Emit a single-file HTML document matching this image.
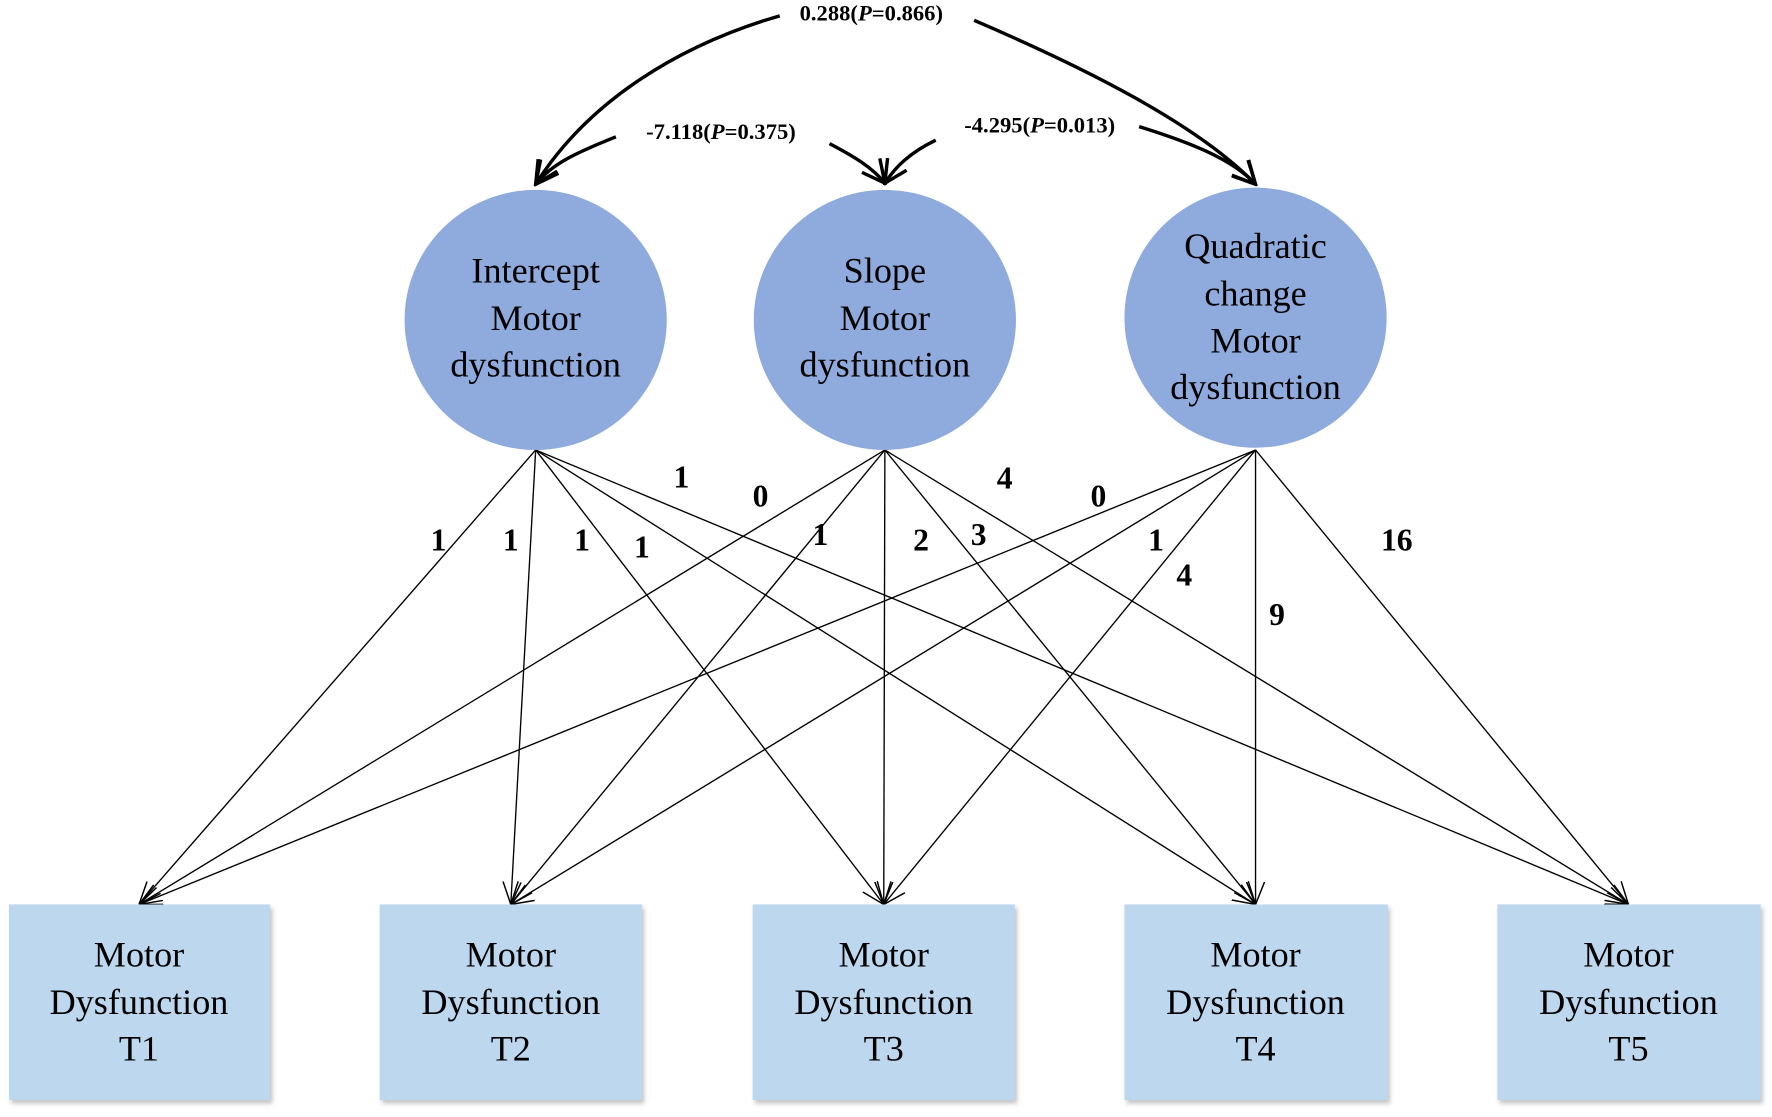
<!DOCTYPE html>
<html><head><meta charset="utf-8"><style>
html,body{margin:0;padding:0;background:#fff;}
svg{display:block;}
text{font-family:"Liberation Serif",serif;}
</style></head><body>
<svg width="1772" height="1117" viewBox="0 0 1568 988" preserveAspectRatio="none" xmlns="http://www.w3.org/2000/svg">
<defs>
<marker id="a" viewBox="0 0 20 20" refX="20" refY="10" markerWidth="20" markerHeight="20" markerUnits="userSpaceOnUse" orient="auto">
<path d="M0,2 L20,10 L0,18" fill="none" stroke="#000" stroke-width="1.3"/>
</marker>
<marker id="b" viewBox="0 0 24 24" refX="22" refY="12" markerWidth="24" markerHeight="24" markerUnits="userSpaceOnUse" orient="auto">
<path d="M2,2 L22,12 L2,22" fill="none" stroke="#000" stroke-width="3"/>
</marker>
<filter id="s" x="-5%" y="-5%" width="115%" height="115%"><feDropShadow dx="2" dy="3" stdDeviation="2" flood-color="#999" flood-opacity="0.6"/></filter>
</defs>
<!-- covariance curves -->
<g fill="none" stroke="#000" stroke-width="3">
<path d="M690,14 C600,40 520,90 474,163" marker-end="url(#b)"/>
<path d="M862,18 C960,60 1060,110 1111,163" marker-end="url(#b)"/>
<path d="M545,121 C510,135 488,145 474,163" marker-end="url(#b)"/>
<path d="M734,127 C755,138 772,148 783,162" marker-end="url(#b)"/>
<path d="M828,124 C805,135 792,148 783,162" marker-end="url(#b)"/>
<path d="M1008,112 C1050,125 1090,140 1111,163" marker-end="url(#b)"/>
</g>
<text x="771" y="18" font-size="20" font-weight="bold" text-anchor="middle">0.288(<tspan font-style="italic">P</tspan>=0.866)</text>
<text x="638" y="123" font-size="20" font-weight="bold" text-anchor="middle">-7.118(<tspan font-style="italic">P</tspan>=0.375)</text>
<text x="920" y="117" font-size="20" font-weight="bold" text-anchor="middle">-4.295(<tspan font-style="italic">P</tspan>=0.013)</text>
<!-- arrows -->
<g stroke="#000" stroke-width="1.2" fill="none">
<line x1="474" y1="398" x2="123" y2="800" marker-end="url(#a)"/>
<line x1="474" y1="398" x2="452" y2="800" marker-end="url(#a)"/>
<line x1="474" y1="398" x2="782" y2="800" marker-end="url(#a)"/>
<line x1="474" y1="398" x2="1111" y2="800" marker-end="url(#a)"/>
<line x1="474" y1="398" x2="1441" y2="800" marker-end="url(#a)"/>
<line x1="783" y1="398" x2="123" y2="800" marker-end="url(#a)"/>
<line x1="783" y1="398" x2="452" y2="800" marker-end="url(#a)"/>
<line x1="783" y1="398" x2="782" y2="800" marker-end="url(#a)"/>
<line x1="783" y1="398" x2="1111" y2="800" marker-end="url(#a)"/>
<line x1="783" y1="398" x2="1441" y2="800" marker-end="url(#a)"/>
<line x1="1111" y1="398" x2="123" y2="800" marker-end="url(#a)"/>
<line x1="1111" y1="398" x2="452" y2="800" marker-end="url(#a)"/>
<line x1="1111" y1="398" x2="782" y2="800" marker-end="url(#a)"/>
<line x1="1111" y1="398" x2="1111" y2="800" marker-end="url(#a)"/>
<line x1="1111" y1="398" x2="1441" y2="800" marker-end="url(#a)"/>
</g>
<!-- circles -->
<g fill="#8faadc">
<ellipse cx="474" cy="283" rx="116" ry="115"/>
<ellipse cx="783" cy="283" rx="116" ry="115"/>
<ellipse cx="1111" cy="281" rx="116" ry="115"/>
</g>
<g font-size="32" text-anchor="middle" fill="#000">
<text x="474" y="250">Intercept</text><text x="474" y="292">Motor</text><text x="474" y="333">dysfunction</text>
<text x="783" y="250">Slope</text><text x="783" y="292">Motor</text><text x="783" y="333">dysfunction</text>
<text x="1111" y="228">Quadratic</text><text x="1111" y="270">change</text><text x="1111" y="312">Motor</text><text x="1111" y="353">dysfunction</text>
</g>
<!-- loading labels -->
<g font-size="28" font-weight="bold" text-anchor="middle">
<text x="388" y="487">1</text><text x="452" y="487">1</text><text x="515" y="487">1</text><text x="568" y="493">1</text><text x="603" y="431">1</text>
<text x="673" y="448">0</text><text x="726" y="482">1</text><text x="815" y="487">2</text><text x="866" y="482">3</text><text x="889" y="432">4</text>
<text x="972" y="448">0</text><text x="1023" y="487">1</text><text x="1048" y="518">4</text><text x="1130" y="553">9</text><text x="1236" y="487">16</text>
</g>
<!-- boxes -->
<g fill="#bdd7ee" filter="url(#s)">
<rect x="8" y="800" width="231" height="173"/>
<rect x="336" y="800" width="232" height="173"/>
<rect x="666" y="800" width="232" height="173"/>
<rect x="995" y="800" width="233" height="173"/>
<rect x="1325" y="800" width="233" height="173"/>
</g>
<g font-size="32" text-anchor="middle">
<text x="123" y="855">Motor</text><text x="123" y="897">Dysfunction</text><text x="123" y="938">T1</text>
<text x="452" y="855">Motor</text><text x="452" y="897">Dysfunction</text><text x="452" y="938">T2</text>
<text x="782" y="855">Motor</text><text x="782" y="897">Dysfunction</text><text x="782" y="938">T3</text>
<text x="1111" y="855">Motor</text><text x="1111" y="897">Dysfunction</text><text x="1111" y="938">T4</text>
<text x="1441" y="855">Motor</text><text x="1441" y="897">Dysfunction</text><text x="1441" y="938">T5</text>
</g>
</svg>
</body></html>
